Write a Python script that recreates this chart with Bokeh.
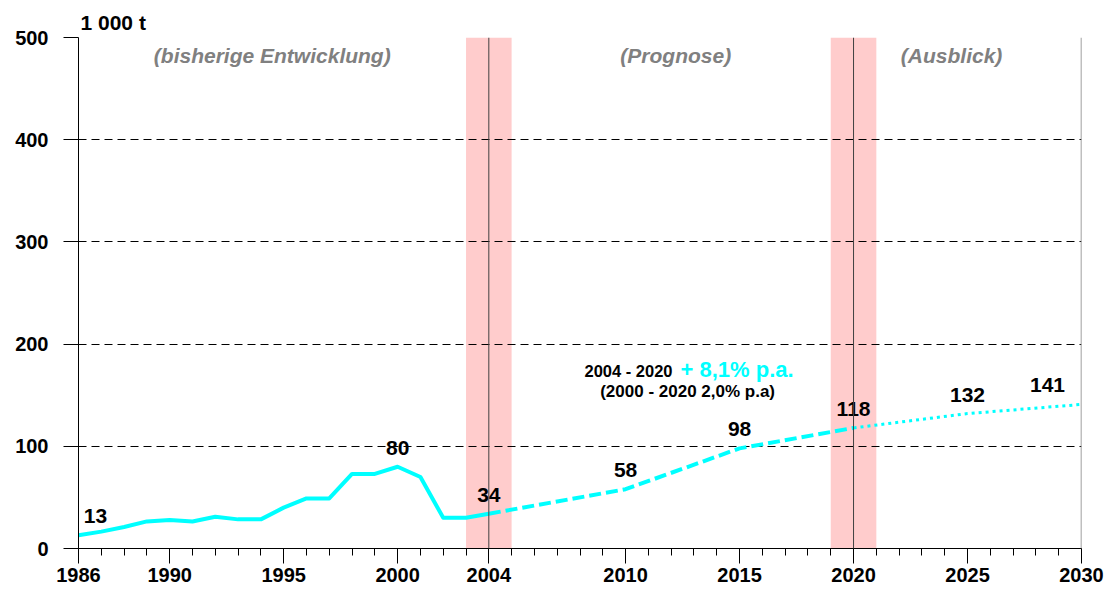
from bokeh.plotting import figure
from bokeh.models import FixedTicker, Span, ColumnDataSource
from bokeh.core.properties import value
from bokeh.embed import file_html
from bokeh.resources import INLINE

# ---- data ----
hist_years = list(range(1986, 2005))
hist_values = [13, 16.5, 21, 26.5, 28, 26.5, 31, 28.5, 28.5, 40, 49, 49, 73, 73, 80, 70, 30, 30, 34]
forecast_years = [2004, 2010, 2015, 2020]
forecast_values = [34, 58, 98, 118]
outlook_years = [2020, 2025, 2030]
outlook_values = [118, 132, 141]

label_years = [1986, 2000, 2004, 2010, 2015, 2020, 2025, 2030]
label_values = [13, 80, 34, 58, 98, 118, 132, 141]
label_dx = [17, 0, 0, 0, 0, 0, 0, -34]

band_left = [2003, 2019]
band_right = [2005, 2021]
marker_years = [2004, 2020]

x_ticks = [1986, 1990, 1995, 2000, 2004, 2010, 2015, 2020, 2025, 2030]
y_ticks = [0, 100, 200, 300, 400, 500]

section_texts = ["(bisherige Entwicklung)", "(Prognose)", "(Ausblick)"]
section_x = [1994.5, 2012.2, 2024.3]
section_y = [482, 482, 482]

unit_text = "1 000 t"

FONT = "Liberation Sans"
CYAN = "#00FFFF"

p = figure(width=1111, height=592, x_range=(1986, 2030), y_range=(0, 500),
           output_backend="svg", toolbar_location=None,
           min_border_left=78, min_border_right=30, min_border_top=37, min_border_bottom=44)
p.outline_line_color = None
p.background_fill_color = "white"
p.border_fill_color = "white"

# unit label as title
p.title.text = unit_text
p.title.align = "left"
p.title.offset = 2
p.title.standoff = 8
p.title.text_font = FONT
p.title.text_font_style = "bold"
p.title.text_font_size = "21px"
p.title.text_color = "black"

# bands
p.quad(left=band_left, right=band_right, bottom=0, top=500,
       fill_color="#FFCCCC", line_color=None, level="image")

# grid
p.xgrid.visible = False
p.ygrid.ticker = FixedTicker(ticks=y_ticks)
p.ygrid.grid_line_color = "black"
p.ygrid.grid_line_dash = "8 5"
p.ygrid.grid_line_width = 1

# vertical markers
for yr in marker_years:
    p.add_layout(Span(location=yr, dimension="height", line_color="#404040", line_width=1))
p.add_layout(Span(location=2030, dimension="height", line_color="#808080", line_width=1.5))

# lines
p.line(hist_years, hist_values, line_color=CYAN, line_width=4, line_join="round")
p.line(forecast_years, forecast_values, line_color=CYAN, line_width=4, line_dash="12 5")
p.line(outlook_years, outlook_values, line_color=CYAN, line_width=3, line_dash="3 4")

# value labels
src = ColumnDataSource(dict(x=label_years, y=label_values,
                            text=[str(v) for v in label_values], dx=label_dx))
p.text(x="x", y="y", text="text", x_offset="dx", y_offset=-19, source=src,
       text_align="center", text_baseline="middle", text_color="black",
       text_font=value(FONT), text_font_style="bold", text_font_size="21px")

# section labels
p.text(x=section_x, y=section_y, text=section_texts, text_align="center",
       text_baseline="middle", text_color="#808080",
       text_font=value(FONT), text_font_style="bold italic", text_font_size="21px")

# growth annotation
p.text(x=[2012.06], y=[173.2], text=["2004 - 2020"], text_align="right",
       text_baseline="middle", text_color="black",
       text_font=value(FONT), text_font_style="bold", text_font_size="16.5px")
p.text(x=[2012.41], y=[175.1], text=["+ 8,1% p.a."], text_align="left",
       text_baseline="middle", text_color=CYAN,
       text_font=value(FONT), text_font_style="bold", text_font_size="22px")
p.text(x=[2012.72], y=[153.6], text=["(2000 - 2020 2,0% p.a)"], text_align="center",
       text_baseline="middle", text_color="black",
       text_font=value(FONT), text_font_style="bold", text_font_size="17px")

# axes
xa = p.xaxis[0]
xa.ticker = FixedTicker(ticks=x_ticks, minor_ticks=list(range(1986, 2031)))
xa.major_tick_in = 0
xa.major_tick_out = 15
xa.minor_tick_in = 0
xa.minor_tick_out = 7
xa.major_label_standoff = 4
xa.axis_line_color = "black"
xa.major_tick_line_color = "black"
xa.minor_tick_line_color = "black"
xa.major_label_text_font = FONT
xa.major_label_text_font_style = "bold"
xa.major_label_text_font_size = "20px"
xa.major_label_text_color = "black"

ya = p.yaxis[0]
ya.ticker = FixedTicker(ticks=y_ticks)
ya.major_tick_in = 0
ya.major_tick_out = 15
ya.minor_tick_out = 0
ya.minor_tick_in = 0
ya.major_label_standoff = 15
ya.axis_line_color = "black"
ya.major_tick_line_color = "black"
ya.major_label_text_font = FONT
ya.major_label_text_font_style = "bold"
ya.major_label_text_font_size = "20px"
ya.major_label_text_color = "black"

open("out.html", "w").write(file_html(p, INLINE))
